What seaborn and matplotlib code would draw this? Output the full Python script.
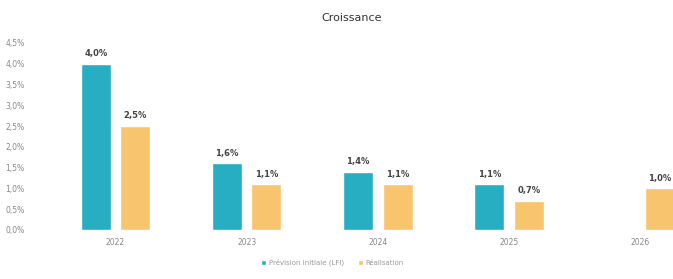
import pandas as pd
import numpy as np
import matplotlib
matplotlib.use("Agg")
import matplotlib.pyplot as plt
import seaborn as sns

# chart data
years = ["2022", "2023", "2024", "2025", "2026"]
prevision = [4.0, 1.6, 1.4, 1.1, np.nan]
realisation = [2.5, 1.1, 1.1, 0.7, 1.0]
series = ["Prévision initiale (LFI)", "Réalisation"]
colors = ["#27AEC3", "#F8C46E"]
y_ticks = [0.0, 0.5, 1.0, 1.5, 2.0, 2.5, 3.0, 3.5, 4.0, 4.5]

df = pd.DataFrame({
    "Année": years * 2,
    "Série": [series[0]] * len(years) + [series[1]] * len(years),
    "Valeur": prevision + realisation,
})

sns.set_style("white")
plt.rcParams['font.family'] = ['DejaVu Sans']

fig = plt.figure(figsize=(6.73, 2.79), dpi=100)
ax = fig.add_axes([0.045, 0.176, 0.955, 0.67])

sns.barplot(data=df, x="Année", y="Valeur", hue="Série", palette=colors,
            saturation=1, width=0.6, gap=0.24, ax=ax, legend=True)

def fmt(v):
    return f"{v:.1f}".replace(".", ",") + "%"

for cont in ax.containers:
    labels = [fmt(v) if not np.isnan(v) else "" for v in cont.datavalues]
    ax.bar_label(cont, labels=labels, padding=4, fontsize=6, color="#444444",
                 fontweight="bold")

ax.set_ylim(0, 4.5)
ax.set_xlim(-0.65, 4.25)
ax.set_yticks(y_ticks)
ax.set_yticklabels([fmt(t) for t in y_ticks], fontsize=5.5, color="#888888")
ax.tick_params(axis="x", labelsize=5.5, colors="#888888", pad=6, length=0)
ax.tick_params(axis="y", length=0, pad=4)
ax.set_xlabel("")
ax.set_ylabel("")
sns.despine(ax=ax, left=True, bottom=True)

ax.set_title("Croissance", fontsize=8, color="#333333", pad=16)

ax.legend(loc="upper center", bbox_to_anchor=(0.47, -0.12), ncol=2, frameon=False,
          fontsize=5, labelcolor="#999999", handlelength=0.7, handleheight=0.7,
          columnspacing=2.0, handletextpad=0.4)

fig.savefig("out.png", dpi=100)
